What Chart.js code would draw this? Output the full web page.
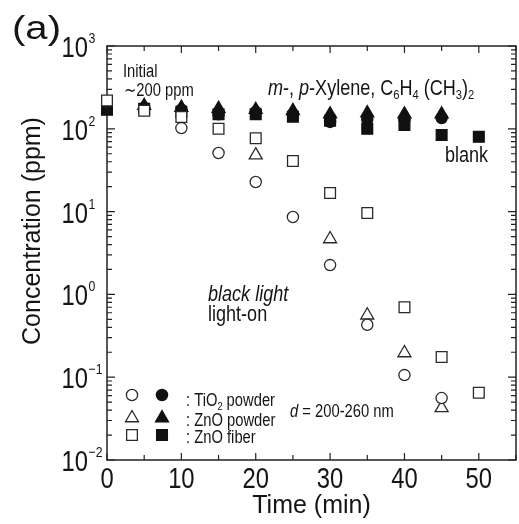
<!DOCTYPE html>
<html>
<head>
<meta charset="utf-8">
<script src="https://cdn.jsdelivr.net/npm/chart.js@4.4.1/dist/chart.umd.min.js"></script>
<style>
  html, body { margin: 0; padding: 0; background: #fff; }
</style>
</head>
<body>
<canvas id="xyleneChart" width="519" height="524"></canvas>
<script>
// sampling times (min)
const times = [0, 5, 10, 15, 20, 25, 30, 35, 40, 45, 50];

// light-on runs (open symbols), ppm
const tio2Light = [null, null, 102, 51, 22.8, 8.6, 2.26, 0.43, 0.106, 0.056, null];
const znoPowderLight = [null, null, null, null, 48, null, 4.67, 0.56, 0.196, 0.0425, null];
const znoFiberLight = [220, 165, 139, 100, 77, 40.8, 16.8, 9.6, 0.70, 0.175, 0.065];

// dark runs (filled symbols), ppm
const tio2Dark = [null, 180, 170, 150, 160, 150, 121, 130, 130, 135, null];
const znoPowderDark = [null, 190, 180, 175, 170, 165, 150, 155, 150, 150, null];
const blank = [170, 175, 160, 150, 150, 140, 125, 100, 111, 84, 80];

const yDecades = [-2, -1, 0, 1, 2, 3];
const xMajor = [0, 10, 20, 30, 40, 50];
const xMinor = [5, 15, 25, 35, 45, 55];

const REGULAR = '"Liberation Sans", Arial, sans-serif';
const SQUEEZE = 0.82;   // condensed look for the figure lettering
const INK = '#151515';

function points(values) {
    const out = [];
    values.forEach((v, i) => {
        if (v !== null) out.push({ x: times[i], y: v });
    });
    return out;
}

function markerRadius(style) {
    return style === 'rect' ? 7.6 : (style === 'triangle' ? 7.5 : 5.6);
}

function series(label, values, style, filled) {
    return {
        label: label,
        data: points(values),
        pointStyle: style,
        pointRadius: markerRadius(style),
        pointBorderWidth: 1.3,
        pointBackgroundColor: filled ? '#111' : '#fff',
        pointBorderColor: filled ? '#111' : '#2a2a2a',
        showLine: false,
        clip: false
    };
}

// first dataset ends up on top, so the open symbols come first
const datasets = [
    series('TiO2 powder, light', tio2Light, 'circle', false),
    series('ZnO powder, light', znoPowderLight, 'triangle', false),
    series('ZnO fiber, light', znoFiberLight, 'rect', false),
    series('TiO2 powder, dark', tio2Dark, 'circle', true),
    series('ZnO powder, dark', znoPowderDark, 'triangle', true),
    series('blank', blank, 'rect', true)
];

// text pieces: {t, italic, sub}, drawn narrowed
function drawRuns(ctx, x, y, runs, size, squeeze) {
    squeeze = squeeze || SQUEEZE;
    runs.forEach(r => {
        const s = r.sub ? size * 0.62 : size;
        ctx.font = (r.italic ? 'italic ' : '') + s + 'px ' + REGULAR;
        ctx.save();
        ctx.translate(x, y + (r.sub ? size * 0.2 : 0));
        ctx.scale(squeeze, 1);
        ctx.fillText(r.t, 0, 0);
        ctx.restore();
        x += ctx.measureText(r.t).width * squeeze;
    });
    return x;
}

function runsWidth(ctx, text, size) {
    ctx.font = size + 'px ' + REGULAR;
    return ctx.measureText(text).width * SQUEEZE;
}

function marker(ctx, style, x, y, filled) {
    ctx.fillStyle = filled ? '#111' : '#fff';
    ctx.strokeStyle = filled ? '#111' : '#2a2a2a';
    ctx.lineWidth = 1.3;
    Chart.helpers.drawPoint(ctx, { pointStyle: style, radius: markerRadius(style), borderWidth: 1.3, rotation: 0 }, x, y);
}

const framePlugin = {
    id: 'frame',
    beforeDatasetsDraw(chart) {
        const ctx = chart.ctx;
        const a = chart.chartArea;
        const xs = chart.scales.x;
        const ys = chart.scales.y;
        ctx.save();
        ctx.strokeStyle = '#222';
        ctx.lineWidth = 1.5;
        ctx.strokeRect(a.left, a.top, a.right - a.left, a.bottom - a.top);

        ctx.lineWidth = 1.2;
        ctx.beginPath();
        // inward ticks on bottom and top
        xMajor.concat(xMinor).forEach(v => {
            const px = xs.getPixelForValue(v);
            const len = v % 10 === 0 ? 7 : 5;
            ctx.moveTo(px, a.bottom); ctx.lineTo(px, a.bottom - len);
            ctx.moveTo(px, a.top); ctx.lineTo(px, a.top + len);
        });
        // inward log ticks on left and right
        yDecades.forEach(d => {
            const base = Math.pow(10, d);
            const py = ys.getPixelForValue(base);
            ctx.moveTo(a.left, py); ctx.lineTo(a.left + 8, py);
            ctx.moveTo(a.right, py); ctx.lineTo(a.right - 8, py);
            if (d < 3) {
                for (let m = 2; m <= 9; m++) {
                    const pm = ys.getPixelForValue(m * base);
                    ctx.moveTo(a.left, pm); ctx.lineTo(a.left + 5, pm);
                    ctx.moveTo(a.right, pm); ctx.lineTo(a.right - 5, pm);
                }
            }
        });
        ctx.stroke();
        ctx.restore();
    },
    afterDraw(chart) {
        const ctx = chart.ctx;
        const a = chart.chartArea;
        const xs = chart.scales.x;
        const ys = chart.scales.y;
        ctx.save();
        ctx.fillStyle = INK;
        ctx.textAlign = 'left';
        ctx.textBaseline = 'alphabetic';

        // decade labels 10^n on the left
        yDecades.forEach(d => {
            const py = ys.getPixelForValue(Math.pow(10, d));
            const w = runsWidth(ctx, '10', 29);
            drawRuns(ctx, 88 - w, py + 11, [{ t: '10' }], 29);
            drawRuns(ctx, 88.5, py - 3, [{ t: String(d).replace('-', '\u2212') }], 15);
        });

        // time labels under the bottom axis
        xMajor.forEach(v => {
            const px = xs.getPixelForValue(v);
            const label = String(v);
            drawRuns(ctx, px - runsWidth(ctx, label, 29) / 2, a.bottom + 28, [{ t: label }], 29);
        });

        // y axis title
        ctx.save();
        ctx.translate(33, 231);
        ctx.rotate(-Math.PI / 2);
        ctx.textAlign = 'center';
        ctx.textBaseline = 'middle';
        ctx.font = '25px ' + REGULAR;
        ctx.fillText('Concentration (ppm)', 0, 0);
        ctx.restore();

        drawRuns(ctx, 12, 39, [{ t: '(a)' }], 34, 1.18);

        drawRuns(ctx, 123, 77, [{ t: 'Initial' }], 18);
        drawRuns(ctx, 124, 96, [{ t: '\u223C200 ppm' }], 18);

        drawRuns(ctx, 268, 95, [
            { t: 'm', italic: true }, { t: '-, ' }, { t: 'p', italic: true },
            { t: '-Xylene, C' }, { t: '6', sub: true }, { t: 'H' }, { t: '4', sub: true },
            { t: ' (CH' }, { t: '3', sub: true }, { t: ')' }, { t: '2', sub: true }
        ], 22);

        drawRuns(ctx, 445, 162, [{ t: 'blank' }], 22);
        drawRuns(ctx, 208, 301, [{ t: 'black light', italic: true }], 22);
        drawRuns(ctx, 208, 321, [{ t: 'light-on' }], 22);

        // key
        const rows = [
            { style: 'circle', y: 395, runs: [{ t: ': TiO' }, { t: '2', sub: true }, { t: ' powder' }], base: 406 },
            { style: 'triangle', y: 418, runs: [{ t: ': ZnO powder' }], base: 426 },
            { style: 'rect', y: 435, runs: [{ t: ': ZnO fiber' }], base: 443 }
        ];
        rows.forEach(r => {
            marker(ctx, r.style, 132, r.y, false);
            marker(ctx, r.style, 162, r.y, true);
            ctx.fillStyle = INK;
            drawRuns(ctx, 186, r.base, r.runs, 18);
        });

        drawRuns(ctx, 290, 417, [{ t: 'd', italic: true }, { t: ' = 200-260 nm' }], 18);
        ctx.restore();
    }
};

new Chart(document.getElementById('xyleneChart'), {
    type: 'scatter',
    data: { datasets: datasets },
    options: {
        responsive: false,
        animation: false,
        events: [],
        layout: { autoPadding: false, padding: { top: 46, right: 3, left: 0, bottom: 0 } },
        plugins: {
            legend: { display: false },
            tooltip: { enabled: false }
        },
        scales: {
            x: {
                type: 'linear',
                position: 'bottom',
                min: 0,
                max: 55,
                grid: { display: false, drawTicks: false },
                border: { display: false },
                ticks: { display: false },
                afterFit: scale => { scale.height = 64; },
                title: {
                    display: true,
                    text: 'Time (min)',
                    color: INK,
                    font: { family: REGULAR, size: 25 },
                    padding: { top: 0, bottom: 3 }
                }
            },
            y: {
                type: 'logarithmic',
                position: 'left',
                min: 0.01,
                max: 1000,
                grid: { display: false, drawTicks: false },
                border: { display: false },
                ticks: { display: false },
                afterFit: scale => { scale.width = 107; }
            }
        }
    },
    plugins: [framePlugin]
});
</script>
</body>
</html>
